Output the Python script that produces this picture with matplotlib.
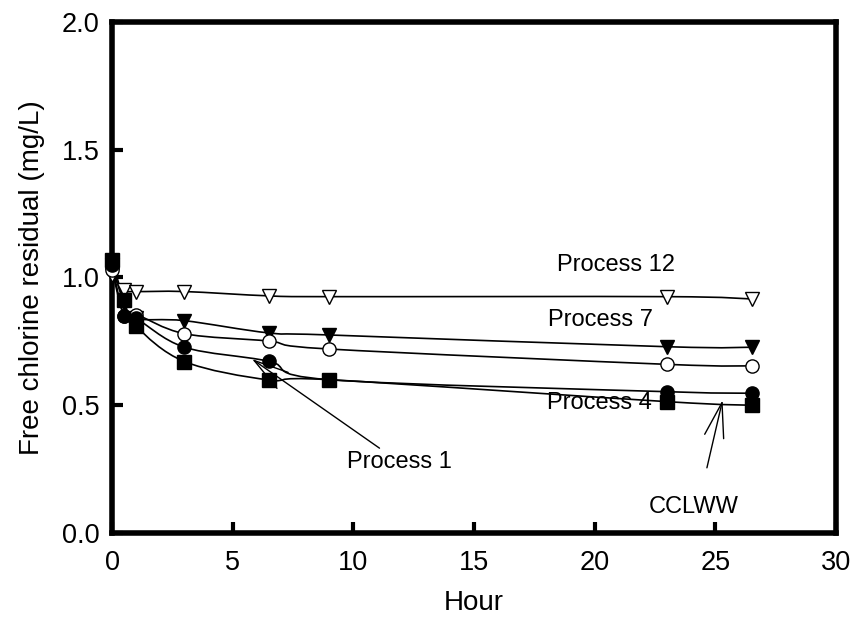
import numpy as np
import matplotlib
matplotlib.use('Agg')
import matplotlib.pyplot as plt
from matplotlib.path import Path
from matplotlib.patches import PathPatch

plt.rcParams['font.family'] = ['Liberation Sans', 'DejaVu Sans']

# Sampling times (hours)
hours = [0, 0.5, 1, 3, 6.5, 9, 23, 26.5]

# Free chlorine residual (mg/L) per process
process12 = [1.01, 0.95, 0.945, 0.945, 0.928, 0.925, 0.925, 0.916]
process7 = [1.05, 0.90, 0.84, 0.831, 0.783, 0.775, 0.729, 0.727]
process4 = [1.03, 0.85, 0.855, 0.78, 0.751, 0.72, 0.66, 0.654]
process1 = [1.05, 0.85, 0.84, 0.727, 0.672, 0.60, 0.553, 0.547]
cclww = [1.07, 0.91, 0.81, 0.671, 0.599, 0.60, 0.514, 0.50]


def smooth_path(x, y):
    # Excel-style smoothed line: cubic Bezier through every point
    pts = np.column_stack([x, y]).astype(float)
    n = len(pts)
    verts = [pts[0]]
    codes = [Path.MOVETO]
    for i in range(n - 1):
        p0 = pts[i - 1] if i > 0 else pts[i]
        p1 = pts[i]
        p2 = pts[i + 1]
        p3 = pts[i + 2] if i + 2 < n else pts[i + 1]
        verts += [p1 + (p2 - p0) / 6, p2 - (p3 - p1) / 6, p2]
        codes += [Path.CURVE4] * 3
    return Path(verts, codes)


fig = plt.figure(figsize=(8.65, 6.23), dpi=100)
ax = fig.add_axes([0.1295, 0.1445, 0.837, 0.8202])

series = [
    (process12, 'v', 'white'),
    (process7, 'v', 'black'),
    (process4, 'o', 'white'),
    (process1, 'o', 'black'),
    (cclww, 's', 'black'),
]
for vals, marker, face in series:
    ax.add_patch(PathPatch(smooth_path(hours, vals), fill=False,
                           edgecolor='black', linewidth=1.2, zorder=2))
    ax.plot(hours, vals, linestyle='none', marker=marker, markersize=9.5,
            markerfacecolor=face, markeredgecolor='black',
            markeredgewidth=1.0, zorder=3, clip_on=False)

ax.set_xlim(0, 30)
ax.set_ylim(0, 2.0)
ax.set_xticks([0, 5, 10, 15, 20, 25, 30])
ax.set_yticks([0.0, 0.5, 1.0, 1.5, 2.0])
ax.set_yticklabels(['0.0', '0.5', '1.0', '1.5', '2.0'])
ax.tick_params(direction='in', length=8, width=3, labelsize=19.5)
ax.tick_params(axis='x', pad=12)
ax.tick_params(axis='y', pad=9)
for sp in ax.spines.values():
    sp.set_linewidth(4)

ax.set_xlabel('Hour', fontsize=20, labelpad=10)
ax.set_ylabel('Free chlorine residual (mg/L)', fontsize=20, labelpad=12)

ax.text(20.9, 1.05, 'Process 12', fontsize=17, ha='center', va='center')
ax.text(20.25, 0.834, 'Process 7', fontsize=17, ha='center', va='center')
ax.text(20.2, 0.509, 'Process 4', fontsize=17, ha='center', va='center')

arrow = dict(arrowstyle='->,head_length=2.5,head_width=0.7',
             mutation_scale=10, color='black', linewidth=1.0,
             shrinkA=0, shrinkB=0)
ax.annotate('Process 1', xy=(5.8, 0.681), xytext=(11.9, 0.278),
            fontsize=17, ha='center', va='center', arrowprops=arrow)
ax.annotate('', xy=(25.3, 0.52), xytext=(24.65, 0.255), arrowprops=arrow)
ax.text(24.1, 0.10, 'CCLWW', fontsize=17, ha='center', va='center')

fig.savefig('out.png', dpi=100)
